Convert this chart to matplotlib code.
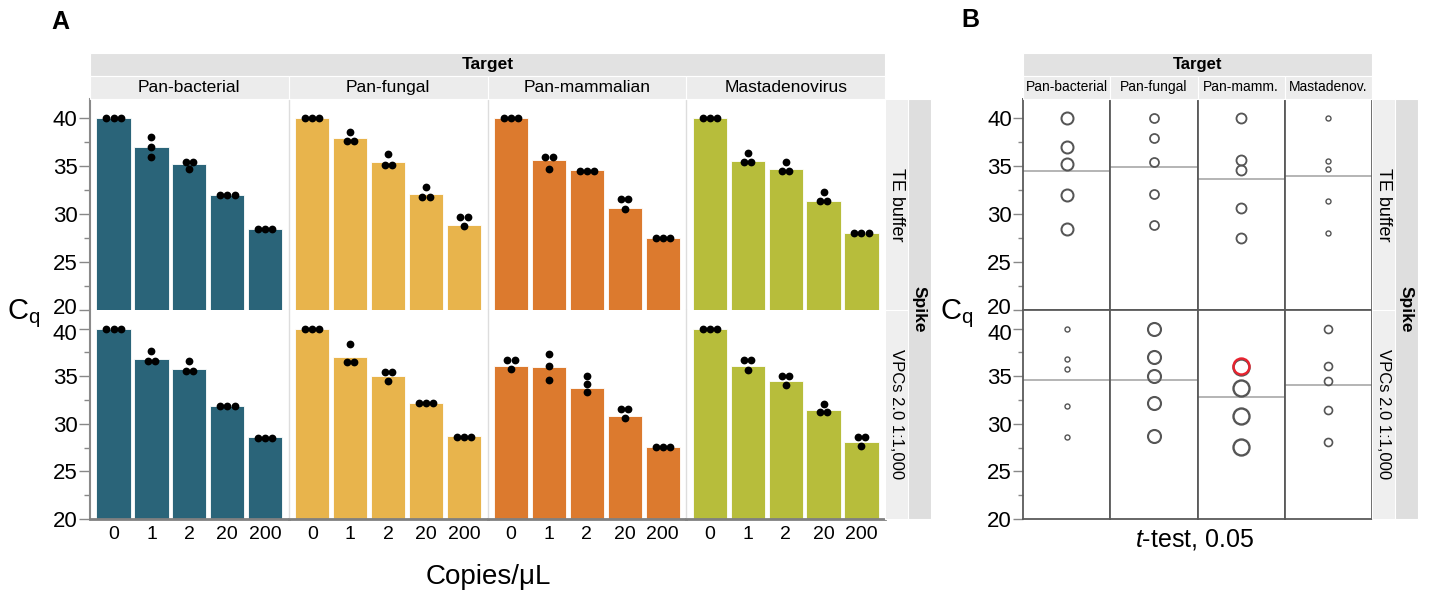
import numpy as np
import matplotlib.pyplot as plt
from matplotlib.patches import Rectangle
from matplotlib.transforms import ScaledTranslation

plt.rcParams['font.family'] = ['Liberation Sans', 'DejaVu Sans']
plt.rcParams['mathtext.fontset'] = 'custom'
plt.rcParams['mathtext.rm'] = 'Liberation Sans'
plt.rcParams['mathtext.it'] = 'Liberation Sans:italic'

targets = ['Pan-bacterial', 'Pan-fungal', 'Pan-mammalian', 'Mastadenovirus']
targets_short = ['Pan-bacterial', 'Pan-fungal', 'Pan-mamm.', 'Mastadenov.']
spikes = ['TE buffer', 'VPCs 2.0 1:1,000']
copies = ['0', '1', '2', '20', '200']
colors = ['#2a6479', '#e8b44c', '#dc7a2e', '#b7bd3b']

# bar heights (Cq), one row per target
cq_te = [
    [40.0, 36.95, 35.2, 31.95, 28.4],
    [40.0, 37.9, 35.45, 32.05, 28.85],
    [40.0, 35.6, 34.55, 30.65, 27.5],
    [40.0, 35.55, 34.65, 31.35, 28.0],
]
cq_vpc = [
    [40.0, 36.75, 35.8, 31.9, 28.6],
    [40.0, 37.05, 35.0, 32.15, 28.75],
    [36.1, 36.0, 33.8, 30.8, 27.6],
    [40.0, 36.1, 34.5, 31.4, 28.1],
]

# replicate wells
reps_te = [
    [[40, 40, 40], [38.0, 37.0, 35.9], [35.45, 35.45, 34.7], [32.0, 32.0, 32.0], [28.4, 28.4, 28.4]],
    [[40, 40, 40], [38.6, 37.6, 37.6], [36.2, 35.15, 35.15], [32.85, 31.8, 31.8], [29.7, 29.7, 28.7]],
    [[40, 40, 40], [35.95, 35.95, 34.7], [34.45, 34.45, 34.45], [31.55, 31.55, 30.5], [27.45, 27.45, 27.45]],
    [[40, 40, 40], [36.35, 35.45, 35.45], [35.4, 34.5, 34.5], [32.25, 31.3, 31.3], [27.95, 27.95, 27.95]],
]
reps_vpc = [
    [[40, 40, 40], [37.6, 36.55, 36.55], [36.6, 35.55, 35.55], [31.9, 31.9, 31.9], [28.55, 28.55, 28.55]],
    [[40, 40, 40], [38.35, 36.5, 36.5], [35.4, 35.4, 34.45], [32.15, 32.15, 32.15], [28.6, 28.6, 28.6]],
    [[36.65, 36.65, 35.75], [37.35, 36.1, 34.55], [35.05, 34.15, 33.3], [31.55, 31.55, 30.6], [27.55, 27.55, 27.55]],
    [[40, 40, 40], [36.65, 36.65, 35.65], [35.05, 35.05, 34.1], [32.1, 31.2, 31.2], [28.65, 28.65, 27.7]],
]

# panel B: t-test mean lines and circle sizes
mean_te = [34.47, 34.86, 33.63, 33.95]
mean_vpc = [34.63, 34.6, 32.83, 34.03]
circle_te = [12, 9, 10, 5]
circle_vpc = [5, 13, 16, 8]
flagged = (1, 2, 0)  # spike, target, copies

W, H = 1429, 590
fig = plt.figure(figsize=(W / 100, H / 100), dpi=100)


def frac(x0, y0, x1, y1):
    return [x0 / W, 1 - y1 / H, (x1 - x0) / W, (y1 - y0) / H]


def strip(x0, y0, x1, y1, text, color, size, bold=False, rot=0):
    fig.add_artist(Rectangle((x0 / W, 1 - y1 / H), (x1 - x0) / W, (y1 - y0) / H,
                             transform=fig.transFigure, facecolor=color,
                             edgecolor='white', lw=0.8))
    fig.text((x0 + x1) / 2 / W, 1 - (y0 + y1) / 2 / H, text, ha='center', va='center',
             rotation=rot, fontsize=size, fontweight='bold' if bold else 'normal')


def swarm(vals, step=0.19, tol=0.5):
    groups = []
    for v in sorted(vals, reverse=True):
        if groups and abs(groups[-1][-1] - v) < tol:
            groups[-1].append(v)
        else:
            groups.append([v])
    xs, ys = [], []
    for g in groups:
        for i, v in enumerate(g):
            xs.append((i - (len(g) - 1) / 2) * step)
            ys.append(v)
    return np.array(xs), np.array(ys)


def y_axis(ax, first, row, tick_len=8):
    ax.set_ylim(20, 42)
    ax.set_yticks([20, 25, 30, 35, 40])
    ax.set_yticks([22.5, 27.5, 32.5, 37.5], minor=True)
    ax.tick_params(axis='y', which='major', length=tick_len, width=1, color='#888888',
                   labelsize=16, pad=1)
    ax.tick_params(axis='y', which='minor', length=tick_len / 2, width=1, color='#888888')
    if not first:
        ax.tick_params(axis='y', which='both', left=False, labelleft=False)
        return
    # the "20" of the upper row and the "40" of the lower row sit very close
    labels = ax.get_yticklabels()
    if row == 0:
        lab, dy = labels[0], 3.5
    else:
        lab, dy = labels[-1], -3.5
    lab.set_transform(lab.get_transform() + ScaledTranslation(0, dy / 100, fig.dpi_scale_trans))


rows = [(99, 309.5), (309.5, 519)]

# ---------- panel A ----------
A_left, A_right = 90, 885
colw = (A_right - A_left) / 4
for r, (bars, reps) in enumerate([(cq_te, reps_te), (cq_vpc, reps_vpc)]):
    y0, y1 = rows[r]
    for t in range(4):
        ax = fig.add_axes(frac(A_left + t * colw, y0, A_left + (t + 1) * colw, y1))
        x = np.arange(5)
        ax.bar(x, bars[t], width=0.9, color=colors[t], edgecolor='white', lw=0.6)
        for k in range(5):
            dx, dy = swarm(reps[t][k])
            ax.plot(k + dx, dy, 'o', color='black', ms=5.6, mew=0, zorder=3, clip_on=False)
        ax.set_xlim(-0.62, 4.62)
        y_axis(ax, t == 0, r)
        for s in ax.spines.values():
            s.set_visible(False)
        ax.spines['left'].set_visible(True)
        if t == 0:
            ax.spines['left'].set_color('#8a8a8a')
            ax.spines['left'].set_linewidth(1.5)
        else:
            ax.spines['left'].set_color('#dddddd')
            ax.spines['left'].set_linewidth(1)
        if r == 1:
            ax.spines['bottom'].set_visible(True)
            ax.spines['bottom'].set_color('#808080')
            ax.spines['bottom'].set_linewidth(2)
            ax.set_xticks(x)
            ax.set_xticklabels(copies)
            ax.tick_params(axis='x', length=0, labelsize=14, pad=5)
        else:
            ax.set_xticks([])

strip(A_left, 53, A_right, 75.5, 'Target', '#e2e2e2', 12.5, bold=True)
for t in range(4):
    strip(A_left + t * colw, 75.5, A_left + (t + 1) * colw, 99, targets[t], '#ececec', 12.5)
for r in range(2):
    strip(885, rows[r][0], 908, rows[r][1], spikes[r], '#efefef', 13 if r == 0 else 12, rot=270)
strip(908, 99, 931, 519, 'Spike', '#dedede', 12.5, bold=True, rot=270)

fig.text(60 / W, 1 - 22 / H, 'A', fontsize=18, fontweight='bold', ha='center', va='center')
fig.text(24 / W, 1 - 314 / H, r'C$_\mathregular{q}$', fontsize=21, ha='center', va='center')
fig.text(488 / W, 1 - 577 / H, 'Copies/μL', fontsize=20, ha='center', va='center')

# ---------- panel B ----------
B_left, B_right = 1023, 1372
colw_b = (B_right - B_left) / 4
for r, (vals, means, sizes) in enumerate([(cq_te, mean_te, circle_te), (cq_vpc, mean_vpc, circle_vpc)]):
    y0, y1 = rows[r]
    for t in range(4):
        ax = fig.add_axes(frac(B_left + t * colw_b, y0, B_left + (t + 1) * colw_b, y1))
        ax.axhline(means[t], color='#a0a0a0', lw=1.1)
        d = sizes[t]
        for k in range(5):
            ec = '#555555'
            z = 3
            if (r, t, k) == flagged:
                ec = '#e8232f'
                z = 4
            ax.plot(0, vals[t][k], 'o', mfc='none', mec=ec, ms=d * 0.72,
                    mew=0.7 + d / 16, zorder=z)
        ax.set_xlim(-1, 1)
        ax.set_xticks([])
        y_axis(ax, t == 0, r, tick_len=7)
        for s in ax.spines.values():
            s.set_color('#5a5a5a')
            s.set_linewidth(1.3)

strip(B_left, 53, B_right, 75.5, 'Target', '#e2e2e2', 12, bold=True)
for t in range(4):
    strip(B_left + t * colw_b, 75.5, B_left + (t + 1) * colw_b, 99, targets_short[t], '#ececec', 10)
for r in range(2):
    strip(1372, rows[r][0], 1395, rows[r][1], spikes[r], '#efefef', 13 if r == 0 else 12, rot=270)
strip(1395, 99, 1418, 519, 'Spike', '#dedede', 12.5, bold=True, rot=270)

fig.text(970 / W, 1 - 20 / H, 'B', fontsize=18, fontweight='bold', ha='center', va='center')
fig.text(957 / W, 1 - 314 / H, r'C$_\mathregular{q}$', fontsize=21, ha='center', va='center')
fig.text(1195 / W, 1 - 539 / H, r'$t$-test, 0.05', fontsize=18, ha='center', va='center')

fig.savefig('out.png', dpi=100)
